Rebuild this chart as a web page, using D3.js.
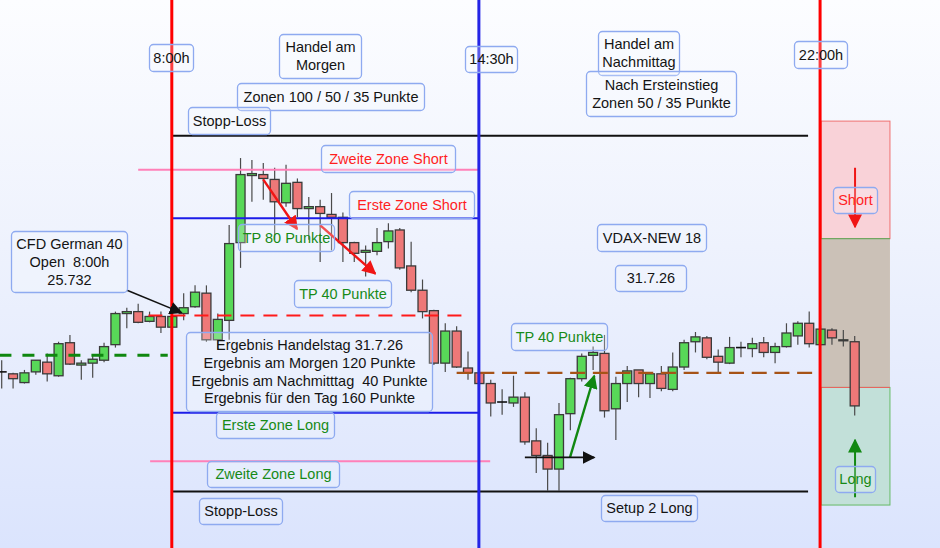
<!DOCTYPE html>
<html>
<head>
<meta charset="utf-8">
<script src="https://cdn.jsdelivr.net/npm/d3@7/dist/d3.min.js"></script>
<style>
  html, body { margin: 0; padding: 0; background: #f4f7fe; }
  svg { display: block; }
  text { font-family: "Liberation Sans", Arial, sans-serif; font-size: 14.5px; white-space: pre; }
</style>
</head>
<body>
<svg id="chart" width="940" height="548"></svg>
<script>
// CFD German 40, 15-minute candles, 31.7.26
const opens  = [25674,25672,25663,25674,25684,25670,25704,25681,25683,25686,25702,25734,25736,25726,25731,25720,25734,25741,25755,25707,
                25727,25807,25876,25877,25872,25848,25869,25842,25844,25836,25833,25807,25797,25798,25808,25820,25783,25758,25737,25683,
                25716,25678,25673,25662,25643,25642,25648,25603,25588,25574,25631,25667,25691,25693,25636,25662,25676,25662,25672,25656,
                25679,25705,25709,25690,25683,25699,25698,25704,25694,25700,25711,25724,25702,25717,25706,25705];
const highs  = [25686,25673,25676,25686,25693,25705,25712,25686,25691,25704,25736,25740,25744,25736,25736,25733,25755,25763,25763,25734,
                25825,25894,25892,25889,25884,25887,25873,25854,25851,25858,25838,25808,25804,25822,25827,25822,25808,25769,25738,25724,
                25721,25695,25674,25666,25656,25670,25653,25616,25601,25642,25668,25693,25700,25712,25669,25680,25676,25674,25680,25694,
                25707,25715,25711,25697,25710,25705,25709,25710,25704,25724,25726,25736,25722,25719,25717,25711];
const lows   = [25657,25657,25662,25671,25664,25669,25681,25666,25668,25684,25699,25719,25724,25725,25714,25719,25727,25740,25705,25697,
                25707,25781,25849,25851,25810,25844,25833,25810,25787,25799,25787,25787,25772,25794,25801,25779,25756,25729,25681,25674,
                25678,25666,25661,25628,25630,25638,25599,25570,25552,25552,25614,25664,25676,25627,25604,25643,25648,25647,25654,25654,
                25676,25694,25687,25674,25682,25689,25689,25689,25683,25699,25702,25699,25701,25702,25700,25629];
const closes = [25674,25667,25673,25686,25672,25703,25682,25683,25687,25700,25734,25736,25725,25731,25720,25731,25740,25756,25707,25728,
                25806,25877,25878,25873,25849,25868,25842,25844,25837,25833,25807,25796,25799,25807,25819,25781,25758,25736,25683,25716,
                25679,25673,25662,25642,25643,25648,25602,25588,25574,25630,25667,25690,25694,25634,25662,25675,25662,25672,25657,25679,
                25704,25710,25689,25684,25699,25699,25703,25694,25700,25714,25724,25703,25718,25709,25707,25639];

// Session markers (candle index) and their labels
const sessionIdx    = [15, 42, 72];
const sessionLabels = ["8:00h", "14:30h", "22:00h"];
const sessionColors = ["#ff0000", "#2424e6", "#ff0000"];

// Price levels
const dayOpen       = 25732;   // open 8:00h
const prevLevel     = 25691;   // green dashed reference
const afternoonOpen = 25673;   // open 14:30h
const zoneNames  = ["Stopp-Loss Short", "Zweite Zone Short", "Erste Zone Short", "Erste Zone Long", "Zweite Zone Long", "Stopp-Loss Long"];
const zoneLevels = [25917, 25882, 25832, 25632, 25582, 25551];
const zoneFrom   = [15, 12.0, 15, 15, 13.05, 15];
const zoneTo     = [70.9, 42, 42, 42, 42.95, 70.9];
const zoneColors = ["#111111", "#ff80b8", "#1c1ce8", "#1c1ce8", "#ff80b8", "#111111"];
const zoneWidths = [2, 2, 2, 2, 2, 2];

// Right side outlook bands (price ranges)
const bandNames  = ["Short", "Neutral", "Long"];
const bandTop    = [25932, 25811, 25658];
const bandBottom = [25811, 25658, 25537];
const bandFills  = ["#f9d2d8", "#cbc1b7", "#c2e0d9"];

const W = 940, H = 548;
const svg = d3.select("#chart");

const x = d3.scaleLinear().domain([0, 75]).range([1.7, 854.7]);
const y = d3.scaleLinear().domain([25492.8, 26056.6]).range([H, 0]);

// background
const defs = svg.append("defs");
const grad = defs.append("linearGradient").attr("id", "bg").attr("x1", 0).attr("y1", 0).attr("x2", 0).attr("y2", 1);
grad.append("stop").attr("offset", "0%").attr("stop-color", "#fcfdff");
grad.append("stop").attr("offset", "45%").attr("stop-color", "#eef2fd");
grad.append("stop").attr("offset", "100%").attr("stop-color", "#dbe4fd");
svg.append("rect").attr("width", W).attr("height", H).attr("fill", "url(#bg)");

function marker(id, color, size) {
  defs.append("marker").attr("id", id).attr("viewBox", "0 0 10 10")
    .attr("refX", 9).attr("refY", 5).attr("markerWidth", size).attr("markerHeight", size)
    .attr("markerUnits", "userSpaceOnUse").attr("orient", "auto")
    .append("path").attr("d", "M0,0 L10,5 L0,10 Z").attr("fill", color);
}
marker("arRed", "#f01515", 14);
marker("arBlack", "#111", 13);
marker("arGreen", "#118811", 14);

// outlook bands right of 22:00h
const bx0 = x(72.05), bx1 = x(78.1);
const bands = svg.append("g");
bands.selectAll("rect").data(bandNames).join("rect")
  .attr("x", bx0).attr("width", bx1 - bx0)
  .attr("y", (d, i) => y(bandTop[i])).attr("height", (d, i) => y(bandBottom[i]) - y(bandTop[i]))
  .attr("fill", (d, i) => bandFills[i])
  .attr("stroke", (d, i) => i === 0 ? "#f07070" : (i === 2 ? "#66bb66" : "none"))
  .attr("stroke-width", 1);
bands.append("line").attr("x1", bx0).attr("x2", bx1).attr("y1", y(bandTop[1])).attr("y2", y(bandTop[1]))
  .attr("stroke", "#55aa55").attr("stroke-width", 1);
bands.append("line").attr("x1", bx0).attr("x2", bx1).attr("y1", y(bandBottom[1])).attr("y2", y(bandBottom[1]))
  .attr("stroke", "#f06060").attr("stroke-width", 1);

// candles
const candles = svg.append("g");
const bodyW = 9;
const idx = d3.range(opens.length);
candles.selectAll("line.wick").data(idx).join("line").attr("class", "wick")
  .attr("x1", i => x(i)).attr("x2", i => x(i))
  .attr("y1", i => y(highs[i])).attr("y2", i => y(lows[i]))
  .attr("stroke", "#4a4a4a").attr("stroke-width", 1.2);
const bodies = idx.filter(i => opens[i] !== closes[i]);
candles.selectAll("rect.body").data(bodies).join("rect").attr("class", "body")
  .attr("x", i => x(i) - bodyW / 2).attr("width", bodyW)
  .attr("y", i => y(Math.max(opens[i], closes[i])))
  .attr("height", i => Math.max(1, Math.abs(y(opens[i]) - y(closes[i]))))
  .attr("fill", i => closes[i] > opens[i] ? "#58d858" : "#ee7878")
  .attr("stroke", "#3a3a3a").attr("stroke-width", 1.3);
const dojis = idx.filter(i => opens[i] === closes[i]);
candles.selectAll("line.doji").data(dojis).join("line").attr("class", "doji")
  .attr("x1", i => x(i) - bodyW / 2 - 0.5).attr("x2", i => x(i) + bodyW / 2 + 0.5)
  .attr("y1", i => y(opens[i])).attr("y2", i => y(opens[i]))
  .attr("stroke", "#111").attr("stroke-width", 1.6);

// zone levels
const levels = svg.append("g");
levels.selectAll("line").data(zoneNames).join("line")
  .attr("x1", (d, i) => x(zoneFrom[i])).attr("x2", (d, i) => x(zoneTo[i]))
  .attr("y1", (d, i) => y(zoneLevels[i])).attr("y2", (d, i) => y(zoneLevels[i]))
  .attr("stroke", (d, i) => zoneColors[i]).attr("stroke-width", (d, i) => zoneWidths[i]);

// dashed reference lines
levels.append("line").attr("x1", x(-0.2)).attr("x2", x(14.6)).attr("y1", y(prevLevel)).attr("y2", y(prevLevel))
  .attr("stroke", "#0f870f").attr("stroke-width", 3).attr("stroke-dasharray", "12,11");
levels.append("line").attr("x1", x(12.9)).attr("x2", x(40.9)).attr("y1", y(dayOpen)).attr("y2", y(dayOpen))
  .attr("stroke", "#ff1a1a").attr("stroke-width", 2.2).attr("stroke-dasharray", "14,9");
levels.append("line").attr("x1", x(40.0)).attr("x2", x(72)).attr("y1", y(afternoonOpen)).attr("y2", y(afternoonOpen))
  .attr("stroke", "#a65317").attr("stroke-width", 2.4).attr("stroke-dasharray", "15,7.7");

// session lines
svg.append("g").selectAll("line").data(sessionIdx).join("line")
  .attr("x1", d => x(d) - 0.5).attr("x2", d => x(d) - 0.5).attr("y1", 0).attr("y2", H)
  .attr("stroke", (d, i) => sessionColors[i]).attr("stroke-width", 3);

// arrows, in (candle index, price)
const arrows = [
  { from: [11.02, 25758], to: [15.8, 25735], color: "#111", w: 1.5, m: "arBlack" },
  { from: [22.99, 25872], to: [25.97, 25821], color: "#f01515", w: 2.4, m: "arRed" },
  { from: [27.99, 25825], to: [32.85, 25775], color: "#f01515", w: 2.4, m: "arRed" },
  { from: [49.97, 25586], to: [52.1, 25670], color: "#118811", w: 2.4, m: "arGreen" },
  { from: [46.0, 25586], to: [52.1, 25586], color: "#111", w: 1.6, m: "arBlack" },
  { from: [75.03, 25884], to: [75.03, 25823], color: "#f01515", w: 2.0, m: "arRed" },
  { from: [75.03, 25545], to: [75.03, 25604], color: "#118811", w: 2.0, m: "arGreen" }
];
svg.append("g").selectAll("line").data(arrows).join("line")
  .attr("x1", d => x(d.from[0])).attr("y1", d => y(d.from[1]))
  .attr("x2", d => x(d.to[0])).attr("y2", d => y(d.to[1]))
  .attr("stroke", d => d.color).attr("stroke-width", d => d.w)
  .attr("marker-end", d => `url(#${d.m})`);

// labelled boxes
const BLACK = "#141414", RED = "#ff1f1f", GREEN = "#178a17";
const notes = [
  { x: 149, y: 44, w: 44, h: 27, lines: [sessionLabels[0]], c: BLACK },
  { x: 279, y: 34, w: 82, h: 44, lines: ["Handel am", "Morgen"], c: BLACK },
  { x: 237, y: 83, w: 187, h: 27, lines: ["Zonen 100 / 50 / 35 Punkte"], c: BLACK },
  { x: 188, y: 107, w: 82, h: 27, lines: ["Stopp-Loss"], c: BLACK },
  { x: 465, y: 46, w: 52, h: 26, lines: [sessionLabels[1]], c: BLACK },
  { x: 598, y: 31, w: 81, h: 44, lines: ["Handel am", "Nachmittag"], c: BLACK },
  { x: 586, y: 71, w: 150, h: 45, lines: ["Nach Ersteinstieg", "Zonen 50 / 35 Punkte"], c: BLACK },
  { x: 794, y: 41, w: 53, h: 27, lines: [sessionLabels[2]], c: BLACK },
  { x: 321, y: 145, w: 134, h: 27, lines: ["Zweite Zone Short"], c: RED },
  { x: 349, y: 191, w: 125, h: 27, lines: ["Erste Zone Short"], c: RED },
  { x: 238, y: 224, w: 96, h: 27, lines: ["TP 80 Punkte"], c: GREEN },
  { x: 294, y: 280, w: 97, h: 27, lines: ["TP 40 Punkte"], c: GREEN },
  { x: 11, y: 231, w: 116, h: 61, lines: ["CFD German 40", "Open  8:00h", "25.732"], c: BLACK },
  { x: 186, y: 332, w: 246, h: 79, lines: ["Ergebnis Handelstag 31.7.26", "Ergebnis am Morgen 120 Punkte", "Ergebnis am Nachmitttag  40 Punkte", "Ergebnis für den Tag 160 Punkte"], c: BLACK },
  { x: 216, y: 412, w: 118, h: 26, lines: ["Erste Zone Long"], c: GREEN },
  { x: 207, y: 461, w: 132, h: 26, lines: ["Zweite Zone Long"], c: GREEN },
  { x: 199, y: 498, w: 83, h: 26, lines: ["Stopp-Loss"], c: BLACK },
  { x: 511, y: 323, w: 96, h: 27, lines: ["TP 40 Punkte"], c: GREEN },
  { x: 597, y: 224, w: 109, h: 27, lines: ["VDAX-NEW 18"], c: BLACK },
  { x: 615, y: 265, w: 71, h: 26, lines: ["31.7.26"], c: BLACK },
  { x: 601, y: 495, w: 96, h: 26, lines: ["Setup 2 Long"], c: BLACK },
  { x: 833, y: 187, w: 44, h: 26, lines: [bandNames[0]], c: RED },
  { x: 835, y: 466, w: 40, h: 26, lines: [bandNames[2]], c: GREEN }
];
const ng = svg.append("g").selectAll("g").data(notes).join("g");
ng.append("rect")
  .attr("x", d => d.x + 0.5).attr("y", d => d.y + 0.5).attr("width", d => d.w).attr("height", d => d.h)
  .attr("rx", 4).attr("fill", "rgba(248,250,255,0.25)").attr("stroke", "#8eaaf0").attr("stroke-width", 1.3);
ng.each(function (d) {
  const g = d3.select(this);
  const lh = 17.8;
  const cy = d.y + d.h / 2;
  d.lines.forEach((t, k) => {
    g.append("text")
      .attr("x", d.x + d.w / 2 + 0.5)
      .attr("y", cy + (k - (d.lines.length - 1) / 2) * lh)
      .attr("dy", "0.36em")
      .attr("text-anchor", "middle")
      .attr("fill", d.c)
      .text(t);
  });
});
</script>
</body>
</html>
